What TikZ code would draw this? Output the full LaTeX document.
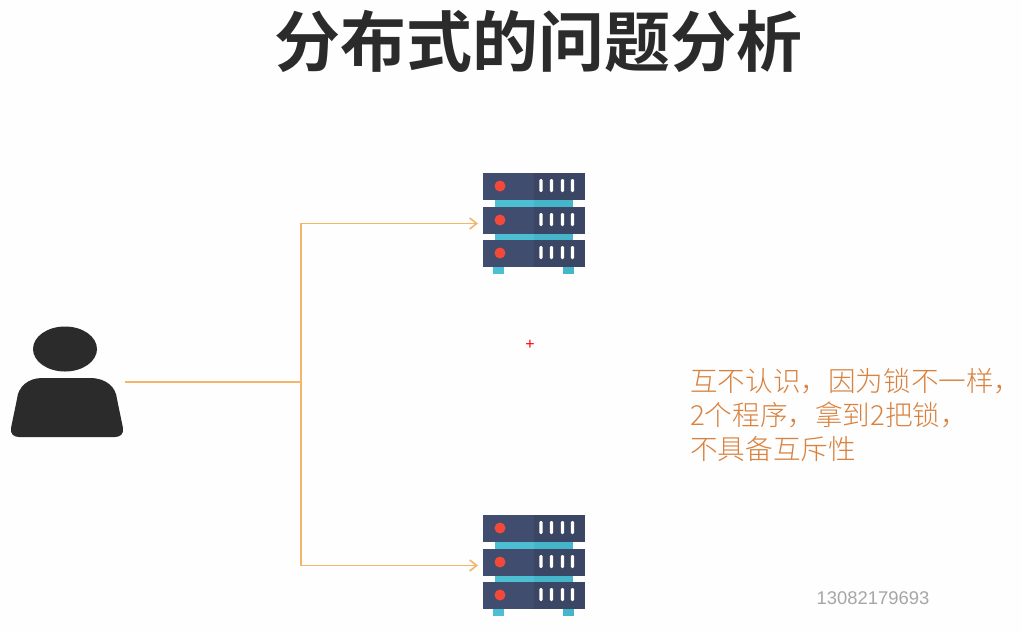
\documentclass[tikz,border=0pt]{standalone}
\usepackage{fontspec}
\usetikzlibrary{arrows.meta}
\setmainfont{Liberation Sans}
\newfontfamily\cjkbold{Noto Sans CJK SC Bold}
\newfontfamily\cjklight{Noto Sans CJK SC Light}
\definecolor{rackL}{HTML}{414D6E}
\definecolor{rackR}{HTML}{3A4664}
\definecolor{tealL}{HTML}{4DBFD2}
\definecolor{tealR}{HTML}{45B5CA}
\definecolor{lineOrange}{HTML}{F3B568}
\definecolor{noteOrange}{HTML}{D9823F}
\definecolor{userDark}{HTML}{2B2B2B}
\definecolor{dotRed}{HTML}{F2493A}
\tikzset{
  rack/.pic={
    \fill[rackL] (0,0) rectangle (51,27);
    \fill[rackR] (51,0) rectangle (102,27);
    \fill[dotRed] (17,13) circle (5.5);
    \foreach \bx in {58,68.5,79.5,89.5}
      \fill[white,rounded corners=1.4] (\bx-1.7,6) rectangle (\bx+1.7,19);
  },
  servericon/.pic={
    \fill[tealL] (12,27) rectangle (51,68);
    \fill[tealR] (51,27) rectangle (90,68);
    \fill[tealL] (10,94) rectangle (21,101);
    \fill[tealR] (80,94) rectangle (91,101);
    \pic at (0,0) {rack};
    \pic at (0,34) {rack};
    \pic at (0,67) {rack};
  },
  flowline/.style={lineOrange, line width=1.6pt},
  boxarea/.style={inner sep=0, outer sep=0, minimum width=102pt, minimum height=101pt}
}
\begin{document}
\begin{tikzpicture}[x=1pt, y=-1pt, >={Straight Barb[length=7pt,width=11pt]}]
  \useasboundingbox (0,0) rectangle (1022,633);
  \fill[white!99.5!black] (0,0) rectangle (1022,633);
  % Title
  \node (title) [text=userDark, font=\cjkbold\fontsize{66}{66}\selectfont, inner sep=0] at (538,41) {分布式的问题分析};
  % Person
  \node (user) [inner sep=0, outer sep=0, minimum width=112pt, minimum height=112pt] at (67,382) {};
  \fill[userDark] (65,349) ellipse (32 and 22.5);
  \fill[userDark] (42,378) -- (90,378) .. controls (106,378) and (116,387) .. (117,399)
    -- (123,428) .. controls (124,434) and (120,437) .. (115,437) -- (19,437)
    .. controls (14,437) and (10,434) .. (11,428) -- (17,399)
    .. controls (18,387) and (28,378) .. (42,378) -- cycle;
  % Servers
  \node (serverTop) [boxarea, anchor=north west] at (483,173) {};
  \node (serverBottom) [boxarea, anchor=north west] at (483,515) {};
  \pic at (serverTop.north west) {servericon};
  \pic at (serverBottom.north west) {servericon};
  % Connectors
  \coordinate (fork) at (301,382);
  \draw[flowline, shorten <=2pt] (user.east) -- (fork);
  \draw[flowline, ->, shorten >=5pt] (fork) |- (serverTop.west);
  \draw[flowline, ->, shorten >=5pt] (fork) |- (serverBottom.west);
  % Red cross
  \node (cross) [text=red, inner sep=0, font=\fontsize{16}{16}\selectfont] at (530,344.5) {+};
  % Note
  \node (note) [anchor=north west, align=left, inner sep=0, text=noteOrange,
    font=\cjklight\fontsize{27.6}{34}\selectfont] at (690,368.5) {互不认识，因为锁不一样，\\2个程序，拿到2把锁，\\不具备互斥性};
  % Watermark
  \node (mark) [text=black!35, inner sep=0, font=\fontsize{18.4}{18.4}\selectfont] at (873,598) {13082179693};
\end{tikzpicture}
\end{document}
